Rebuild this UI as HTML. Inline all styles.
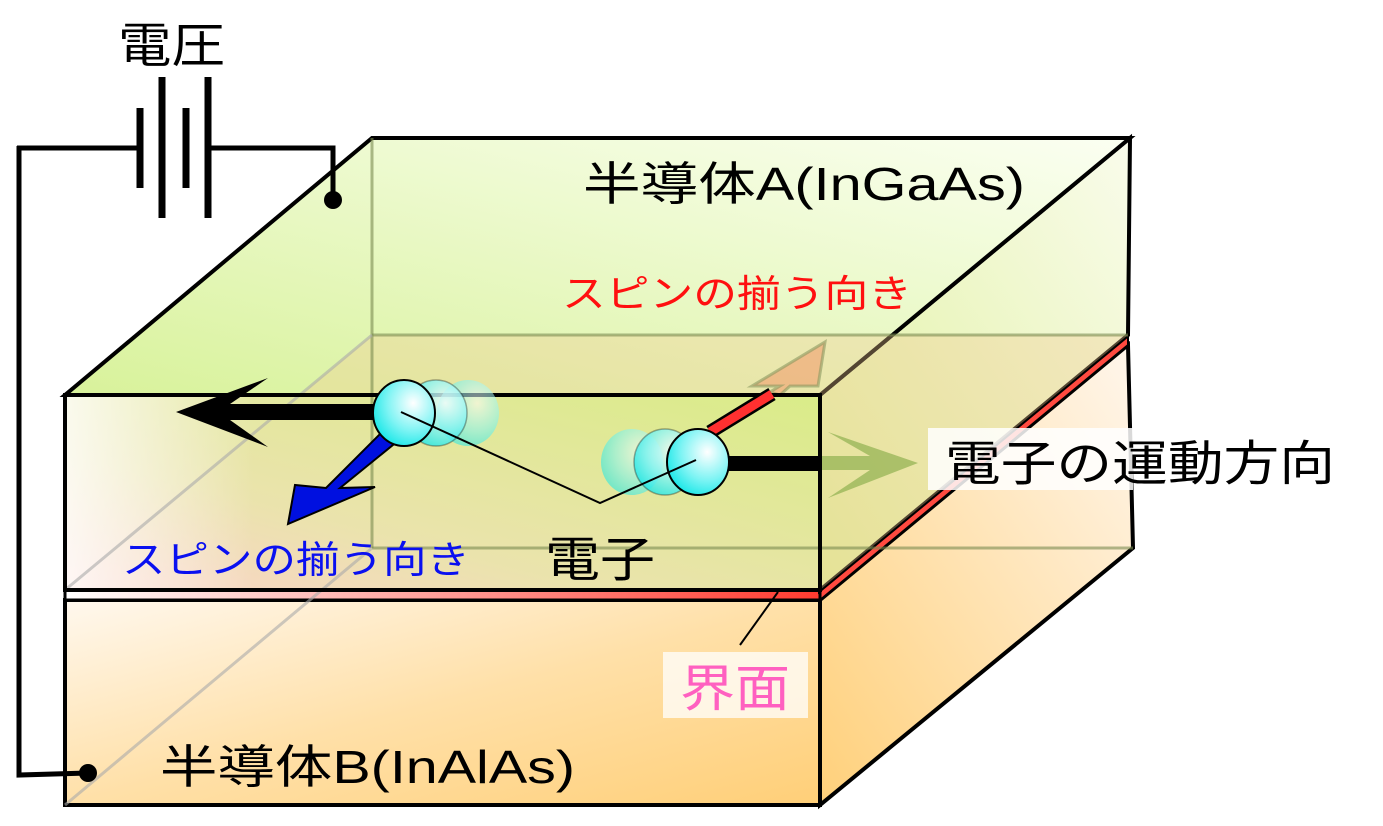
<!DOCTYPE html>
<html><head><meta charset="utf-8"><style>
html,body{margin:0;padding:0;background:#fff;}
svg{display:block;}
text{font-family:"Liberation Sans","Noto Sans CJK JP",sans-serif;}
</style></head><body>
<svg width="1383" height="826" viewBox="0 0 1383 826" xmlns="http://www.w3.org/2000/svg">
<defs>
<linearGradient id="top" x1="0" y1="1" x2="1" y2="0">
<stop offset="0" stop-color="#d8f29a"/><stop offset="1" stop-color="#fbfff2"/></linearGradient>
<linearGradient id="frontA" x1="0" y1="1" x2="1" y2="0">
<stop offset="0" stop-color="#fbd0c8"/><stop offset="0.35" stop-color="#e9e2a8"/><stop offset="1" stop-color="#d6ec80"/></linearGradient>
<linearGradient id="frontAl" x1="0" y1="0" x2="1" y2="0">
<stop offset="0" stop-color="#ffffff" stop-opacity="0.8"/><stop offset="0.25" stop-color="#ffffff" stop-opacity="0"/></linearGradient>
<linearGradient id="rightA" x1="0" y1="1" x2="1" y2="0">
<stop offset="0" stop-color="#d9ee88"/><stop offset="1" stop-color="#f8fbe8"/></linearGradient>
<linearGradient id="frontB" x1="0" y1="0" x2="1" y2="1">
<stop offset="0" stop-color="#fff8ee"/><stop offset="0.5" stop-color="#ffe0a8"/><stop offset="1" stop-color="#ffcf78"/></linearGradient>
<linearGradient id="rightB" x1="0" y1="1" x2="1" y2="0">
<stop offset="0" stop-color="#ffd07a"/><stop offset="1" stop-color="#fff6ec"/></linearGradient>
<linearGradient id="iface" x1="0" y1="0" x2="1" y2="0">
<stop offset="0" stop-color="#ffffff"/><stop offset="1" stop-color="#ff3b30"/></linearGradient>
<radialGradient id="ball" cx="0.65" cy="0.35" r="0.7">
<stop offset="0" stop-color="#ffffff"/><stop offset="0.6" stop-color="#7ff4f4"/><stop offset="1" stop-color="#1fe8e8"/></radialGradient>
</defs>

<g stroke="#000" stroke-width="7">
<line x1="140" y1="108" x2="140" y2="188"/>
<line x1="162" y1="77" x2="162" y2="218"/>
<line x1="186" y1="108" x2="186" y2="188"/>
<line x1="208" y1="77" x2="208" y2="218"/>
</g>
<text x="118" y="62" font-size="48" textLength="107" lengthAdjust="spacingAndGlyphs">電圧</text>

<!-- bottom box B -->
<polygon points="820,600 1128,345 1133,548 820,805" fill="url(#rightB)" stroke="#000" stroke-width="4"/>
<rect x="65" y="600" width="755" height="205" fill="url(#frontB)" stroke="#000" stroke-width="4"/>

<polygon points="820,590 1128,335 1128,345 820,600" fill="#ff4a40" stroke="#000" stroke-width="2"/>
<rect x="65" y="590" width="755" height="10" fill="url(#iface)" stroke="#000" stroke-width="3"/>

<!-- box A -->
<polygon points="820,395 1130,138 1128,335 820,590" fill="url(#rightA)" fill-opacity="0.85" stroke="#000" stroke-width="4"/>
<polygon points="65,395 372,138 1130,138 820,395" fill="url(#top)" stroke="#000" stroke-width="4"/>
<polygon points="372,335 1128,335 820,590 65,590" fill="#f0c890" fill-opacity="0.35"/>
<rect x="65" y="395" width="755" height="195" fill="url(#frontA)" fill-opacity="0.9"/>
<rect x="65" y="395" width="755" height="195" fill="url(#frontAl)"/>
<g stroke="#7a8a50" stroke-opacity="0.6" stroke-width="3" fill="none">
<line x1="372" y1="138" x2="372" y2="548"/>
<line x1="372" y1="335" x2="1128" y2="335"/>
<line x1="372" y1="548" x2="1133" y2="548"/>
<line x1="65" y1="805" x2="372" y2="548" stroke="#aaa"/>
<line x1="65" y1="590" x2="372" y2="335" stroke="#aaa"/>
</g>

<polygon points="770,392 780,386 752,386 825,342 818,386 790,386 780,395" fill="#f0a070" fill-opacity="0.6" stroke="#8a9a60" stroke-opacity="0.6" stroke-width="3"/>
<polygon points="820,456 870,456 828,432 918,463 828,498 870,470 820,470" fill="#90b050" fill-opacity="0.7"/>

<rect x="65" y="395" width="755" height="195" fill="none" stroke="#000" stroke-width="4"/>

<polygon points="176,412 268,378 230,404 380,404 380,420 230,420 268,447" fill="#000"/>
<polygon points="390,424 404,436 340,488 375,487 288,524 295,485 326,488" fill="#0010e0" stroke="#000" stroke-width="2"/>
<line x1="710" y1="432" x2="772" y2="394" stroke="#000" stroke-width="14"/>
<line x1="710" y1="432" x2="772" y2="394" stroke="#ff3030" stroke-width="9"/>
<rect x="725" y="456" width="95" height="15" fill="#000"/>

<ellipse cx="468" cy="413" rx="31" ry="33" fill="url(#ball)" opacity="0.55"/>
<ellipse cx="436" cy="413" rx="31" ry="33" fill="url(#ball)" opacity="0.8" stroke="#000" stroke-opacity="0.4" stroke-width="1.5"/>
<ellipse cx="404" cy="413" rx="31" ry="33" fill="url(#ball)" stroke="#000" stroke-width="2"/>
<ellipse cx="632" cy="462" rx="31" ry="33" fill="url(#ball)" opacity="0.55"/>
<ellipse cx="665" cy="462" rx="31" ry="33" fill="url(#ball)" opacity="0.8" stroke="#000" stroke-opacity="0.4" stroke-width="1.5"/>
<ellipse cx="698" cy="462" rx="31" ry="33" fill="url(#ball)" stroke="#000" stroke-width="2"/>
<polyline points="401,412 600,503 696,460" fill="none" stroke="#000" stroke-width="2"/>

<line x1="778" y1="592" x2="740" y2="645" stroke="#000" stroke-width="2"/>

<!-- wires on top -->
<g stroke="#000" stroke-width="5" fill="none">
<polyline points="17,148 137,148"/>
<polyline points="210,148 333,148 333,200"/>
<polyline points="19,146 19,775 88,773"/>
</g>
<circle cx="333" cy="200" r="9" fill="#000"/>
<circle cx="88" cy="773" r="9" fill="#000"/>

<text x="583" y="200" font-size="46" textLength="442" lengthAdjust="spacingAndGlyphs">半導体A(InGaAs)</text>
<text x="562" y="307" font-size="38" fill="#ff1010" textLength="350" lengthAdjust="spacingAndGlyphs">スピンの揃う向き</text>
<text x="122" y="573" font-size="38" fill="#0a10f0" textLength="348" lengthAdjust="spacingAndGlyphs">スピンの揃う向き</text>
<text x="545" y="576" font-size="48" textLength="110" lengthAdjust="spacingAndGlyphs">電子</text>
<rect x="928" y="428" width="205" height="62" fill="#fff" fill-opacity="0.85"/>
<text x="945" y="480" font-size="48" textLength="390" lengthAdjust="spacingAndGlyphs">電子の運動方向</text>
<rect x="663" y="652" width="145" height="66" fill="#fff" fill-opacity="0.75"/>
<text x="680" y="706" font-size="50" fill="#ff60c0" textLength="110" lengthAdjust="spacingAndGlyphs">界面</text>
<text x="160" y="783" font-size="46" textLength="415" lengthAdjust="spacingAndGlyphs">半導体B(InAlAs)</text>
</svg>
</body></html>
